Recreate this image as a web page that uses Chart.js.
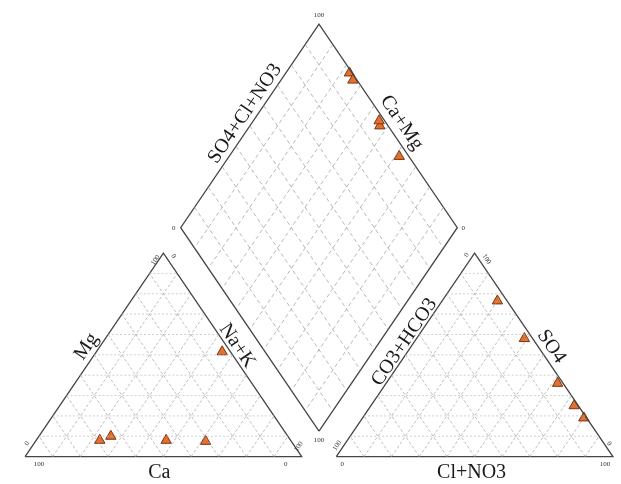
<!DOCTYPE html>
<html>
<head>
<meta charset="utf-8">
<script src="https://cdn.jsdelivr.net/npm/chart.js@4.4.1/dist/chart.umd.min.js"></script>
<style>
  html, body { margin: 0; padding: 0; background: #ffffff; }
  canvas { display: block; }
</style>
</head>
<body>
<canvas id="piper" width="621" height="484"></canvas>
<script>
// Cation composition of each sample (% of total meq/L)
const ca  = [69, 64, 45, 31, 3];
const mg  = [8, 10, 8, 7.5, 51.5];
const naK = [23, 26, 47, 61.5, 45.5];

// Anion composition of each sample (% of total meq/L)
const hco3 = [1, 1.5, 3, 3.5, 2];
const so4  = [19, 25, 58, 76.5, 36];
const cl   = [80, 73.5, 39, 20, 62];

// Grid steps on every ternary axis and the end labels of each axis
const gridSteps = [10, 20, 30, 40, 50, 60, 70, 80, 90];
const axisEnds = ['0', '100'];

// ---- Piper geometry (triangle side = 1) ----
const H = Math.sqrt(3) / 2;
const GAP = 0.125;                 // spacing between the two triangles
const RIGHT0 = 1 + GAP;            // left corner of the anion triangle
const BOTTOM = { x: 1 + GAP / 2, y: GAP * H };  // lower corner of the diamond

function cationPt(nak, m) { return { x: nak / 100 + m / 200, y: (m / 100) * H }; }
function anionPt(c, s)    { return { x: RIGHT0 + c / 100 + s / 200, y: (s / 100) * H }; }
function diamondPt(nak, h) {
  const u = 1 - nak / 100, v = 1 - h / 100;
  return { x: BOTTOM.x - 0.5 * u + 0.5 * v, y: BOTTOM.y + H * (u + v) };
}

// Join line segments into one dataset, broken by NaN points
function segments(list) {
  const out = [];
  list.forEach(([a, b]) => { out.push(a, b, { x: NaN, y: NaN }); });
  return out;
}

const cationHoriz = [], cationDiag = [], anionHoriz = [], anionDiag = [], diamondGrid = [];
gridSteps.forEach(k => {
  // cation triangle
  cationHoriz.push([cationPt(0, k), cationPt(100 - k, k)]);          // Mg = k
  cationDiag.push([cationPt(k, 0), cationPt(k, 100 - k)]);           // Na+K = k
  cationDiag.push([cationPt(100 - k, 0), cationPt(0, 100 - k)]);     // Ca = k
  // anion triangle
  anionHoriz.push([anionPt(0, k), anionPt(100 - k, k)]);             // SO4 = k
  anionDiag.push([anionPt(k, 0), anionPt(k, 100 - k)]);              // Cl+NO3 = k
  anionDiag.push([anionPt(100 - k, 0), anionPt(0, 100 - k)]);        // CO3+HCO3 = k
  // diamond
  diamondGrid.push([diamondPt(k, 0), diamondPt(k, 100)]);
  diamondGrid.push([diamondPt(0, k), diamondPt(100, k)]);
});

const outline = [
  cationPt(0, 0), cationPt(100, 0), cationPt(0, 100), cationPt(0, 0), { x: NaN, y: NaN },
  anionPt(0, 0), anionPt(100, 0), anionPt(0, 100), anionPt(0, 0), { x: NaN, y: NaN },
  diamondPt(100, 100), diamondPt(100, 0), diamondPt(0, 0), diamondPt(0, 100), diamondPt(100, 100)
];

const cationPoints = ca.map((_, i) => cationPt(naK[i], mg[i]));
const anionPoints = so4.map((_, i) => anionPt(cl[i], so4[i]));
const diamondPoints = naK.map((_, i) => diamondPt(naK[i], hco3[i]));

function gridSet(data, color, dash) {
  return { data, showLine: true, borderColor: color, borderWidth: 0.7, borderDash: dash,
           pointRadius: 0, pointHoverRadius: 0, fill: false, tension: 0, spanGaps: false };
}
function markerSet(data) {
  return { data, showLine: false, pointStyle: 'triangle', pointRadius: 6, pointHoverRadius: 6,
           backgroundColor: '#E2702F', borderColor: '#7E3410', borderWidth: 1 };
}

// ---- text: axis names and end values ----
const SERIF = '"Liberation Serif", "DejaVu Serif", serif';
const labelPlugin = {
  id: 'piperLabels',
  afterDatasetsDraw(chart) {
    const { ctx, scales: { x, y } } = chart;
    const px = p => ({ x: x.getPixelForValue(p.x), y: y.getPixelForValue(p.y) });

    function edgeLabel(text, lower, upper, t, d, side, size) {
      const a = px(lower), b = px(upper);
      const dx = b.x - a.x, dy = b.y - a.y, len = Math.hypot(dx, dy);
      const ex = dx / len, ey = dy / len;
      const nx = ey * side, ny = -ex * side;
      const cx = a.x + dx * t + nx * d, cy = a.y + dy * t + ny * d;
      let ang = Math.atan2(dy, dx);
      if (ang < -Math.PI / 2) ang += Math.PI;
      ctx.save();
      ctx.translate(cx, cy);
      ctx.rotate(ang);
      ctx.font = size + 'px ' + SERIF;
      ctx.fillStyle = '#1a1a1a';
      ctx.textAlign = 'center';
      ctx.textBaseline = 'middle';
      ctx.fillText(text, 0, 0);
      ctx.restore();
    }
    function endLabel(text, p, ox, oy, rot) {
      const q = px(p);
      ctx.save();
      ctx.translate(q.x + ox, q.y + oy);
      ctx.rotate(rot * Math.PI / 180);
      ctx.font = '7px ' + SERIF;
      ctx.fillStyle = '#333';
      ctx.textAlign = 'center';
      ctx.textBaseline = 'middle';
      ctx.fillText(text, 0, 0);
      ctx.restore();
    }

    // horizontal axis names
    ctx.save();
    ctx.font = '20px ' + SERIF;
    ctx.fillStyle = '#1a1a1a';
    ctx.textAlign = 'center';
    ctx.textBaseline = 'middle';
    const caPos = px(cationPt(50, 0));
    ctx.fillText('Ca', caPos.x - 4, caPos.y + 16);
    const clPos = px(anionPt(50, 0));
    ctx.fillText('Cl+NO3', clPos.x - 3, clPos.y + 16);
    ctx.restore();

    // sloped axis names
    edgeLabel('Mg', cationPt(0, 0), cationPt(0, 100), 0.51, 11, 1, 20);
    edgeLabel('Na+K', cationPt(100, 0), cationPt(0, 100), 0.52, 9, -1, 20);
    edgeLabel('CO3+HCO3', anionPt(0, 0), anionPt(0, 100), 0.54, 8, 1, 20);
    edgeLabel('SO4', anionPt(100, 0), anionPt(0, 100), 0.51, 11, -1, 20);
    edgeLabel('SO4+Cl+NO3', diamondPt(0, 100), diamondPt(0, 0), 0.53, 11, 1, 20);
    edgeLabel('Ca+Mg', diamondPt(100, 0), diamondPt(0, 0), 0.48, 13, -1, 20);

    const [lo, hi] = axisEnds;
    // cation triangle ends
    endLabel(hi, cationPt(0, 0), 14, 8, 0);
    endLabel(lo, cationPt(100, 0), -16, 8, 0);
    endLabel(lo, cationPt(0, 0), 2, -13, -56);
    endLabel(hi, cationPt(0, 100), -8, 7, -56);
    endLabel(lo, cationPt(0, 100), 10, 3, 56);
    endLabel(hi, cationPt(100, 0), -3, -10, -56);
    // anion triangle ends
    endLabel(lo, anionPt(0, 0), 6, 8, 0);
    endLabel(hi, anionPt(100, 0), -8, 8, 0);
    endLabel(hi, anionPt(0, 0), 1, -11, -56);
    endLabel(lo, anionPt(0, 100), -8, 2, -56);
    endLabel(hi, anionPt(0, 100), 12, 6, 56);
    endLabel(lo, anionPt(100, 0), -4, -13, 56);
    // diamond ends
    endLabel(hi, diamondPt(0, 0), 0, -9, 0);
    endLabel(lo, diamondPt(0, 100), -7, 1, 0);
    endLabel(lo, diamondPt(100, 0), 6, 1, 0);
    endLabel(hi, diamondPt(100, 100), 0, 9, 0);
  }
};

// Map model units to the canvas: 283 px per side horizontally, 242 px per unit vertically
const X_MIN = -18.5 / 283, X_MAX = X_MIN + 621 / 283;
const Y_MIN = -21 / 242,  Y_MAX = 463 / 242;

new Chart(document.getElementById('piper'), {
  type: 'scatter',
  data: {
    datasets: [
      gridSet(segments(diamondGrid), '#9a9a9a', [4, 3]),
      gridSet(segments(cationDiag), '#a4a4a4', [3, 2]),
      gridSet(segments(anionDiag), '#a4a4a4', [3, 2]),
      gridSet(segments(cationHoriz), '#bcbcbc', [2, 2]),
      gridSet(segments(anionHoriz), '#bcbcbc', [2, 2]),
      { data: outline, showLine: true, borderColor: '#454545', borderWidth: 1.3,
        pointRadius: 0, pointHoverRadius: 0, fill: false, tension: 0, spanGaps: false },
      markerSet(cationPoints),
      markerSet(anionPoints),
      markerSet(diamondPoints)
    ]
  },
  options: {
    responsive: false,
    animation: false,
    layout: { padding: 0 },
    plugins: { legend: { display: false }, tooltip: { enabled: false } },
    events: [],
    scales: {
      x: { type: 'linear', min: X_MIN, max: X_MAX, display: false },
      y: { type: 'linear', min: Y_MIN, max: Y_MAX, display: false }
    }
  },
  plugins: [labelPlugin]
});
</script>
</body>
</html>
